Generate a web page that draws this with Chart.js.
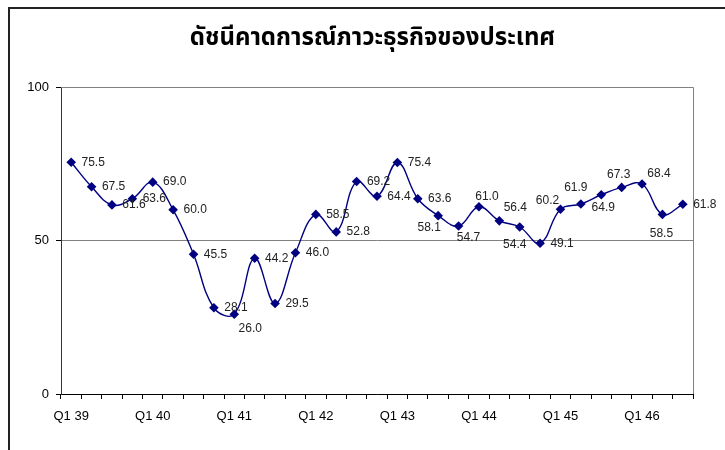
<!DOCTYPE html>
<html>
<head>
<meta charset="utf-8">
<script src="https://cdn.jsdelivr.net/npm/chart.js@4.4.0/dist/chart.umd.min.js"></script>
<style>
  html, body { margin: 0; padding: 0; background: #fff; }
  #wrap { position: relative; width: 725px; height: 450px; overflow: hidden; }
  #frame { position: absolute; left: 8px; top: 7px; width: 800px; height: 500px;
           border-top: 2px solid #222; border-left: 2px solid #222; }
  canvas { position: absolute; left: 0; top: 0; }
</style>
</head>
<body>
<div id="wrap">
  <div id="frame"></div>
  <canvas id="myChart" width="725" height="450"></canvas>
</div>
<script>
const chartTitle = 'ดัชนีคาดการณ์ภาวะธุรกิจของประเทศ';
const quarters = [
  'Q1 39', 'Q2 39', 'Q3 39', 'Q4 39',
  'Q1 40', 'Q2 40', 'Q3 40', 'Q4 40',
  'Q1 41', 'Q2 41', 'Q3 41', 'Q4 41',
  'Q1 42', 'Q2 42', 'Q3 42', 'Q4 42',
  'Q1 43', 'Q2 43', 'Q3 43', 'Q4 43',
  'Q1 44', 'Q2 44', 'Q3 44', 'Q4 44',
  'Q1 45', 'Q2 45', 'Q3 45', 'Q4 45',
  'Q1 46', 'Q2 46', 'Q3 46'
];
const indexValues = [
  75.5, 67.5, 61.6, 63.6,
  69.0, 60.0, 45.5, 28.1,
  26.0, 44.2, 29.5, 46.0,
  58.5, 52.8, 69.2, 64.4,
  75.4, 63.6, 58.1, 54.7,
  61.0, 56.4, 54.4, 49.1,
  60.2, 61.9, 64.9, 67.3,
  68.4, 58.5, 61.8
];
const yTicks = [0, 50, 100];

// label offsets from each point (px), label centred there
const R = [22, 0];
const labelOffsets = [
  R, R, R, R,
  R, R, R, R,
  [16, 15], R, R, R,
  R, R, R, R,
  R, R, [-9, 12], [10, 12],
  [8, -10], [16, -13], [-5, 18], R,
  [-13, -8], [-5, -16], [2, 13], [-3, -13],
  [17, -10], [-1, 19], R
];

const plotFrame = {
  id: 'plotFrame',
  beforeDatasetsDraw(chart) {
    const a = chart.chartArea, c = chart.ctx;
    c.save();
    c.strokeStyle = '#808080';
    c.lineWidth = 1;
    c.beginPath();
    c.moveTo(a.left, a.top + 0.5);
    c.lineTo(a.right + 0.5, a.top + 0.5);
    c.lineTo(a.right + 0.5, a.bottom);
    c.stroke();
    c.restore();
  }
};

const titleText = {
  id: 'titleText',
  afterDraw(chart) {
    const c = chart.ctx;
    c.save();
    c.font = 'bold 24px Tahoma, "Noto Sans Thai", "Noto Sans", sans-serif';
    c.fillStyle = '#000';
    c.textAlign = 'center';
    c.textBaseline = 'middle';
    c.fillText(chartTitle, chart.width / 2 + 10, 40);
    c.restore();
  }
};

const valueLabels = {
  id: 'valueLabels',
  afterDatasetsDraw(chart) {
    const c = chart.ctx;
    const pts = chart.getDatasetMeta(0).data;
    c.save();
    c.font = '12px Arial, "Liberation Sans", sans-serif';
    c.fillStyle = '#222';
    c.textAlign = 'center';
    c.textBaseline = 'middle';
    pts.forEach((p, i) => {
      const o = labelOffsets[i];
      c.fillText(indexValues[i].toFixed(1), p.x + o[0], p.y + o[1]);
    });
    c.restore();
  }
};

new Chart(document.getElementById('myChart'), {
  type: 'line',
  data: {
    labels: quarters,
    datasets: [{
      data: indexValues,
      borderColor: '#000080',
      borderWidth: 1.4,
      backgroundColor: '#000080',
      pointStyle: 'rectRot',
      pointRadius: 4.8,
      pointBorderWidth: 0,
      tension: 0.4,
      fill: false
    }]
  },
  options: {
    responsive: false,
    animation: false,
    layout: { padding: { left: 0, right: 32, top: 87, bottom: 0 } },
    scales: {
      x: {
        offset: true,
        afterFit: (s) => { s.height = 56; },
        grid: { offset: true, drawOnChartArea: false, drawTicks: true, tickLength: 5, tickColor: '#000' },
        border: { color: '#000', width: 1 },
        ticks: {
          autoSkip: false,
          maxRotation: 0,
          padding: 10,
          color: '#000',
          font: { family: 'Arial, "Liberation Sans", sans-serif', size: 13 },
          callback: function(value, index) {
            const l = quarters[index];
            return l.startsWith('Q1') ? l : '';
          }
        }
      },
      y: {
        min: 0,
        max: 100,
        afterFit: (s) => { s.width = 61; },
        afterBuildTicks: (s) => { s.ticks = yTicks.map(v => ({ value: v })); },
        grid: { color: '#808080', drawTicks: true, tickLength: 5, tickColor: '#000' },
        border: { color: '#333', width: 1 },
        ticks: {
          padding: 7,
          color: '#000',
          font: { family: 'Arial, "Liberation Sans", sans-serif', size: 13 }
        }
      }
    },
    plugins: {
      legend: { display: false },
      tooltip: { enabled: false },
      title: { display: false }
    }
  },
  plugins: [plotFrame, valueLabels, titleText]
});
</script>
</body>
</html>
